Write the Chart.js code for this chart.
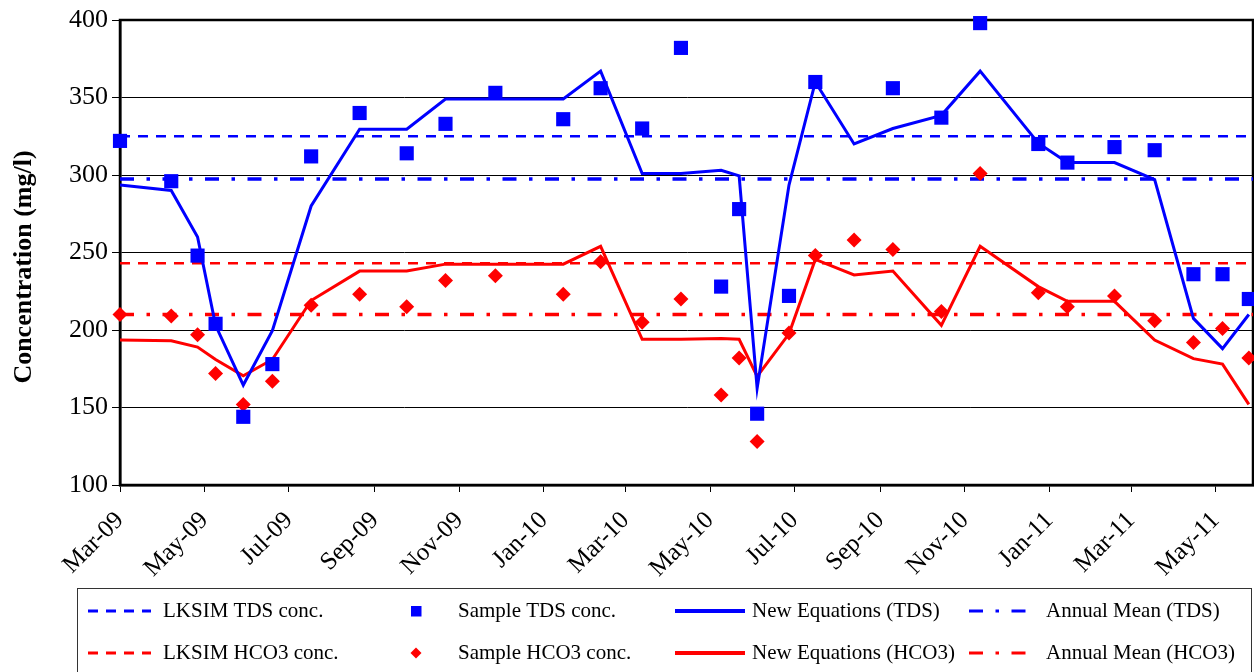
<!DOCTYPE html>
<html>
<head>
<meta charset="utf-8">
<script src="https://cdn.jsdelivr.net/npm/chart.js@4.4.0/dist/chart.umd.min.js"></script>
<style>
  body { margin: 0; background: #fff; }
  canvas { display: block; }
</style>
</head>
<body>
<canvas id="chart" width="1254" height="672"></canvas>
<script>
// sampling dates (shared by samples and model output)
const sampleDates = [
  '2009-03-01', '2009-04-07', '2009-04-26', '2009-05-09', '2009-05-29', '2009-06-19',
  '2009-07-17', '2009-08-21', '2009-09-24', '2009-10-22', '2009-11-27', '2010-01-15',
  '2010-02-11', '2010-03-13', '2010-04-10', '2010-05-09', '2010-05-22', '2010-06-04',
  '2010-06-27', '2010-07-16', '2010-08-13', '2010-09-10', '2010-10-15', '2010-11-12',
  '2010-12-24', '2011-01-14', '2011-02-17', '2011-03-18', '2011-04-15', '2011-05-06',
  '2011-05-25'
];
const sampleTDS = [322, 296, 248, 204, 144, 178, 312, 340, 314, 333, 353, 336,
  356, 330, 382, 228, 278, 146, 222, 360, null, 356, 337, 398, 320, 308, 318, 316, 236, 236, 220];
const sampleHCO3 = [210, 209, 197, 172, 152, 167, 216, 223, 215, 232, 235, 223,
  244, 205, 220, 158, 182, 128, 198, 248, 258, 252, 212, 301, 224, 215, 222, 206, 192, 201, 182];
const modelTDS = [293.5, 290, 260, 203, 164.5, 199.5, 280, 329.5, 329.5, 349, 349, 349,
  367, 301, 301, 303, 299.5, 162.5, 293.5, 360, 320, 330, 338.5, 367, 320.5, 308, 308, 297, 207.5, 188, 210];
const modelHCO3 = [193.5, 193, 189, 181, 170.5, 181, 219, 238, 238, 242.5, 242.5, 242.5,
  254, 194, 194, 194.5, 194, 170, 197.5, 245.5, 235.5, 238, 203, 254, 228, 218.5, 218.5, 193.5, 181.5, 178, 152];

const lksimTDS = 325;
const meanTDS = 297.5;
const lksimHCO3 = 243;
const meanHCO3 = 210;

const tickDates = ['2009-03-01', '2009-05-01', '2009-07-01', '2009-09-01', '2009-11-01', '2010-01-01',
  '2010-03-01', '2010-05-01', '2010-07-01', '2010-09-01', '2010-11-01', '2011-01-01', '2011-03-01', '2011-05-01'];
const tickLabels = ['Mar-09', 'May-09', 'Jul-09', 'Sep-09', 'Nov-09', 'Jan-10',
  'Mar-10', 'May-10', 'Jul-10', 'Sep-10', 'Nov-10', 'Jan-11', 'Mar-11', 'May-11'];
const yTicks = [100, 150, 200, 250, 300, 350, 400];
const yTitle = 'Concentration (mg/l)';

const axisStart = '2009-03-01';
const axisEnd = '2011-05-28';

const DAY = 86400000;
const toDay = s => (Date.parse(s) - Date.parse(axisStart)) / DAY;
const xMax = toDay(axisEnd);
const tickDays = tickDates.map(toDay);

const pts = vals => sampleDates.map((d, i) => ({ x: toDay(d), y: vals[i] }));
const flat = v => [{ x: 0, y: v }, { x: xMax, y: v }];

const BLUE = '#0000ff';
const RED = '#ff0000';
const DASH = [10, 8];
const DASHDOT = [14, 12.5, 3.5, 12.5];
const FONT = "'Liberation Serif', 'Times New Roman', serif";

Chart.defaults.font.family = FONT;
Chart.defaults.color = '#000';

const datasets = [
  { label: 'Sample TDS conc.', data: pts(sampleTDS), showLine: false, pointStyle: 'rect',
    pointRadius: 10, backgroundColor: BLUE, borderColor: BLUE, pointBorderWidth: 0, clip: false, order: 0 },
  { label: 'Sample HCO3 conc.', data: pts(sampleHCO3), showLine: false, pointStyle: 'rectRot',
    pointRadius: 7.5, backgroundColor: RED, borderColor: RED, pointBorderWidth: 0, clip: false, order: 1 },
  { label: 'New Equations (TDS)', data: pts(modelTDS), borderColor: BLUE, borderWidth: 3,
    pointRadius: 0, tension: 0, order: 2 },
  { label: 'New Equations (HCO3)', data: pts(modelHCO3), borderColor: RED, borderWidth: 3,
    pointRadius: 0, tension: 0, order: 3 },
  { label: 'Annual Mean (TDS)', data: flat(meanTDS), borderColor: BLUE, borderWidth: 3.5,
    borderDash: DASHDOT, pointRadius: 0, order: 4 },
  { label: 'LKSIM TDS conc.', data: flat(lksimTDS), borderColor: BLUE, borderWidth: 2.5,
    borderDash: DASH, pointRadius: 0, order: 5 },
  { label: 'Annual Mean (HCO3)', data: flat(meanHCO3), borderColor: RED, borderWidth: 3.5,
    borderDash: DASHDOT, pointRadius: 0, order: 6 },
  { label: 'LKSIM HCO3 conc.', data: flat(lksimHCO3), borderColor: RED, borderWidth: 2.5,
    borderDash: DASH, pointRadius: 0, order: 7 }
];

// legend grid: rows x columns of dataset indices
const legendRows = [[5, 0, 2, 4], [7, 1, 3, 6]];
const legendCols = [
  { x0: 88, x1: 151, tx: 163 },
  { x0: 416, x1: 416, tx: 458 },
  { x0: 675, x1: 745, tx: 752 },
  { x0: 969, x1: 1027, tx: 1046 }
];
const legendRowY = [611, 653];

const framePlugin = {
  id: 'frame',
  beforeDatasetsDraw(chart) {
    const { ctx, chartArea: a } = chart;
    ctx.save();
    ctx.strokeStyle = '#000';
    ctx.lineWidth = 2.5;
    ctx.strokeRect(a.left, a.top, a.right - a.left, a.bottom - a.top);
    ctx.restore();
  },
  afterDraw(chart) {
    const ctx = chart.ctx;
    ctx.save();
    // y axis title, drawn a little below centre as in the original
    ctx.save();
    ctx.translate(24, 267);
    ctx.rotate(-Math.PI / 2);
    ctx.font = 'bold 26px ' + FONT;
    ctx.fillStyle = '#000';
    ctx.textAlign = 'center';
    ctx.textBaseline = 'middle';
    ctx.fillText(yTitle, 0, 0);
    ctx.restore();

    ctx.strokeStyle = '#333';
    ctx.lineWidth = 1;
    ctx.strokeRect(77.5, 588.5, 1174, 120);
    ctx.font = '21px ' + FONT;
    ctx.fillStyle = '#000';
    ctx.textBaseline = 'middle';
    legendRows.forEach((row, r) => {
      const y = legendRowY[r];
      row.forEach((di, c) => {
        const ds = chart.data.datasets[di];
        const col = legendCols[c];
        ctx.save();
        if (ds.showLine === false) {
          ctx.fillStyle = ds.backgroundColor;
          if (ds.pointStyle === 'rect') {
            ctx.fillRect(col.x0 - 5, y - 5, 10.5, 10.5);
          } else {
            const r2 = 5.5;
            ctx.beginPath();
            ctx.moveTo(col.x0 - r2, y);
            ctx.lineTo(col.x0, y - r2);
            ctx.lineTo(col.x0 + r2, y);
            ctx.lineTo(col.x0, y + r2);
            ctx.closePath();
            ctx.fill();
          }
        } else {
          ctx.strokeStyle = ds.borderColor;
          ctx.lineWidth = ds.borderDash ? 3 : 4;
          ctx.setLineDash(ds.borderDash || []);
          ctx.beginPath();
          ctx.moveTo(col.x0, y);
          ctx.lineTo(col.x1, y);
          ctx.stroke();
        }
        ctx.restore();
        ctx.fillText(ds.label, col.tx, y);
      });
    });
    ctx.restore();
  }
};

new Chart(document.getElementById('chart'), {
  type: 'line',
  data: { datasets },
  options: {
    responsive: false,
    animation: false,
    layout: { autoPadding: false, padding: { top: 20, right: 1, left: 0, bottom: 0 } },
    plugins: { legend: { display: false }, tooltip: { enabled: false } },
    scales: {
      x: {
        type: 'linear',
        min: 0,
        max: xMax,
        afterBuildTicks: s => { s.ticks = tickDays.map(v => ({ value: v })); },
        afterFit: s => { s.height = 187; s.paddingLeft = 0; s.paddingRight = 0; },
        ticks: {
          autoSkip: false,
          minRotation: 45,
          maxRotation: 45,
          padding: 14,
          font: { size: 25 },
          callback: v => tickLabels[tickDays.indexOf(v)]
        },
        grid: { drawOnChartArea: false, drawTicks: true, tickLength: 7, color: '#000', lineWidth: 1 },
        border: { display: true, color: '#000', width: 2.5 }
      },
      y: {
        min: 100,
        max: 400,
        afterBuildTicks: s => { s.ticks = yTicks.map(v => ({ value: v })); },
        afterFit: s => { s.width = 120; },
        ticks: { padding: 4, font: { size: 26 } },
        grid: { color: '#000', lineWidth: 1, tickLength: 8 },
        border: { display: true, color: '#000', width: 2.5 },
        title: { display: false }
      }
    }
  },
  plugins: [framePlugin]
});
</script>
</body>
</html>
